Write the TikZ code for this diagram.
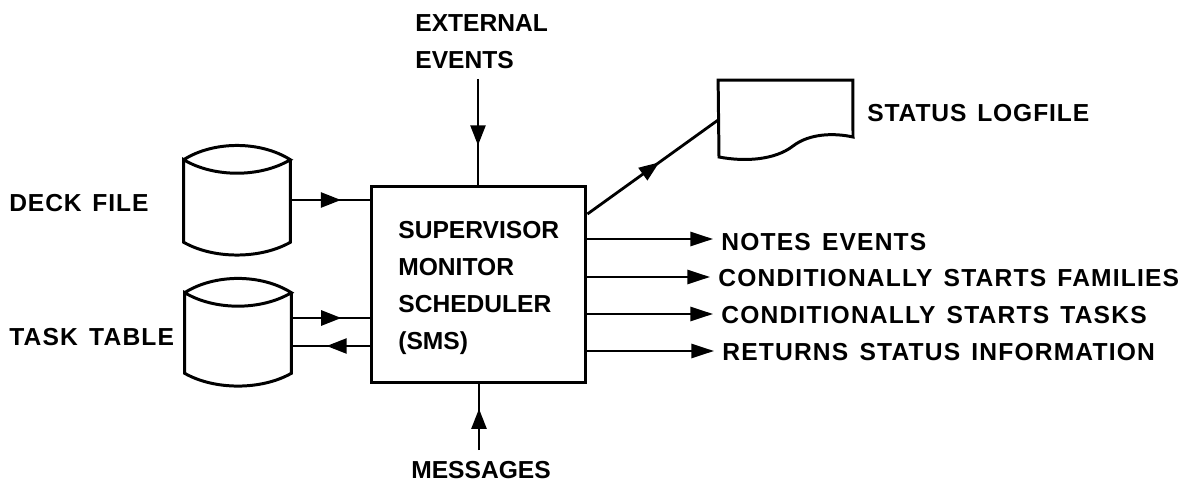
\documentclass[tikz,border=0pt]{standalone}
\usepackage{fontspec}
\setmainfont{Liberation Sans}
\newfontfamily\widefont[LetterSpace=4.8,WordSpace=1.4]{Liberation Sans}
\newfontfamily\logfont[LetterSpace=3.6,WordSpace=1.4]{Liberation Sans}
\usetikzlibrary{arrows.meta,decorations.markings}
\tikzset{
	% Stile per le etichette
	label text/.style={font=\fontsize{14}{21}\selectfont\bfseries, inner sep=0pt, align=left},
	wide text/.style={font=\fontsize{14}{21}\widefont\bfseries, inner sep=0pt, align=left},
	log text/.style={font=\fontsize{14}{21}\logfont\bfseries, inner sep=0pt, align=left},
	% Stile per le linee
	box style/.style={line width=1.7pt, color=black},
	edge style/.style={line width=1.6pt, color=black},
	tip style/.style={edge style, shorten >=4.5pt, -{Triangle[length=13pt, width=8pt]}},
	mid tip/.style={edge style, postaction={decorate}, decoration={markings, mark=at position #1 with {\arrow{Triangle[length=11.5pt, width=8.5pt]}}}}
}
\begin{document}
\begin{tikzpicture}[x=0.02cm, y=-0.02cm]
	\useasboundingbox (0,0) rectangle (1191,483);

	% Blocco centrale
	\node[draw=black, box style, minimum width=122.3pt, minimum height=112.1pt, inner sep=0pt] (sms) at (478.5,284.5) {};
	\node[label text, anchor=west] (smstext) at (398,288) {SUPERVISOR\\MONITOR\\SCHEDULER\\(SMS)};

	% Cilindri
	\node[minimum width=60.3pt, minimum height=46.6pt, inner sep=0pt] (deck) at (237,201) {};
	\node[minimum width=60.3pt, minimum height=45.5pt, inner sep=0pt] (task) at (238,333) {};
	\foreach \drum in {deck,task}
		\draw[box style] (\drum.north west) .. controls +(30,-19) and +(-30,-19) .. (\drum.north east)
			.. controls +(-30,18) and +(30,18) .. (\drum.north west)
			-- (\drum.south west) .. controls +(30,17) and +(-30,17) .. (\drum.south east)
			-- (\drum.north east);
	\node[log text, anchor=west] (decklabel) at (9,203) {DECK FILE};
	\node[wide text, anchor=west] (tasklabel) at (9,337) {TASK TABLE};

	% Documento
	\node[minimum width=76.3pt, minimum height=45pt, inner sep=0pt] (logfile) at (785.5,120) {};
	\draw[box style] (logfile.north west) -- (logfile.north east) -- (853,137)
		.. controls (835,133) and (810,133) .. (793,146)
		.. controls (775,160) and (745,162) .. (719,157) -- cycle;
	\node[log text, anchor=west] (logtext) at (867,113) {STATUS LOGFILE};

	% Etichette in alto e in basso
	\node[label text, anchor=west] (external) at (415,41.5) {EXTERNAL\\EVENTS};
	\node[label text, anchor=center] (messages) at (481,470) {MESSAGES};

	% Etichette a destra
	\node[wide text, anchor=west] (notes) at (721,242) {NOTES EVENTS};
	\node[wide text, anchor=west] (families) at (718,278) {CONDITIONALLY STARTS FAMILIES};
	\node[wide text, anchor=west] (tasks) at (721,315) {CONDITIONALLY STARTS TASKS};
	\node[wide text, anchor=west] (status) at (722,352) {RETURNS STATUS INFORMATION};

	% Connessioni
	\coordinate (top) at (478,79);
	\coordinate (bottom) at (479,450);
	\draw[mid tip=0.63] (top) -- (top |- sms.north);
	\draw[mid tip=0.63] (bottom) -- (bottom |- sms.south);
	\coordinate (deckin) at (deck.east |- 0,200);
	\coordinate (taskin) at (task.east |- 0,318);
	\coordinate (taskout) at (task.east |- 0,346);
	\draw[mid tip=0.64] (deckin) -- (deckin -| sms.west);
	\draw[mid tip=0.64] (taskin) -- (taskin -| sms.west);
	\draw[mid tip=0.55] (taskout -| sms.west) -- (taskout);
	\coordinate (logstart) at (sms.east |- 0,214);
	\coordinate (logend) at (logfile.west);
	\draw[mid tip=0.55] (logstart) -- (logend);
	\coordinate (notesout) at (sms.east |- 0,239);
	\coordinate (familiesout) at (sms.east |- 0,277);
	\coordinate (tasksout) at (sms.east |- 0,314);
	\coordinate (statusout) at (sms.east |- 0,351);
	\draw[tip style] (notesout) -- (notesout -| notes.west);
	\draw[tip style] (familiesout) -- (familiesout -| families.west);
	\draw[tip style] (tasksout) -- (tasksout -| tasks.west);
	\draw[tip style] (statusout) -- (statusout -| status.west);
\end{tikzpicture}
\end{document}
